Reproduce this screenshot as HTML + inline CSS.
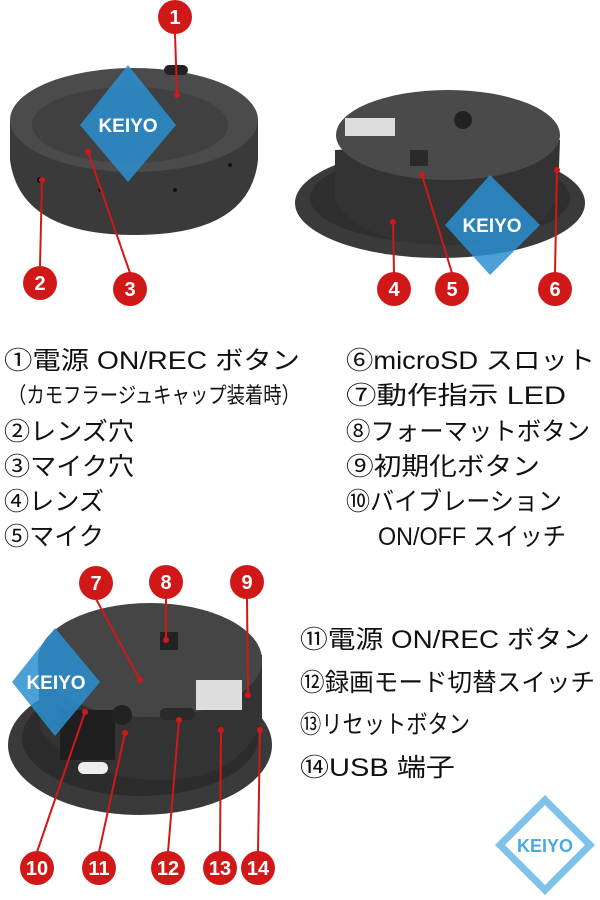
<!DOCTYPE html>
<html><head><meta charset="utf-8"><style>
body{margin:0;background:#fff;width:600px;height:900px;overflow:hidden}
svg{display:block}
text{font-family:"Liberation Sans","Noto Sans CJK JP",sans-serif}
.t{font-size:25px;fill:#111}
.n{font-size:20px;font-weight:bold;fill:#fff;text-anchor:middle}
</style></head><body>
<svg width="600" height="900" viewBox="0 0 600 900">
<!-- device 1 -->
<path d="M10 120 L10 160 Q20 235 135 235 Q250 235 258 160 L258 120 Z" fill="#3a3a3a"/>
<ellipse cx="134" cy="120" rx="124" ry="52" fill="#4b4b4b"/>
<ellipse cx="130" cy="125" rx="98" ry="38" fill="#404040"/>
<rect x="164" y="65" width="24" height="10" rx="5" fill="#222"/>
<circle cx="40" cy="180" r="3" fill="#111"/><circle cx="100" cy="190" r="2" fill="#111"/><circle cx="175" cy="190" r="2" fill="#111"/><circle cx="230" cy="165" r="2" fill="#111"/>
<!-- device 2 -->
<ellipse cx="440" cy="203" rx="145" ry="55" fill="#3a3a3a"/>
<ellipse cx="440" cy="198" rx="130" ry="45" fill="#2e2e2e"/>
<path d="M335 150 L335 200 Q360 245 450 245 Q540 245 558 195 L560 140 Z" fill="#333"/>
<ellipse cx="448" cy="135" rx="112" ry="45" fill="#4a4a4a"/>
<rect x="345" y="118" width="50" height="18" fill="#ddd"/>
<circle cx="463" cy="120" r="9" fill="#222"/>
<rect x="410" y="150" width="18" height="16" fill="#2a2a2a"/>
<!-- device 3 -->
<ellipse cx="140" cy="745" rx="132" ry="70" fill="#3a3a3a"/>
<ellipse cx="140" cy="738" rx="118" ry="58" fill="#2c2c2c"/>
<path d="M38 660 L40 730 Q80 780 160 780 Q240 780 262 720 L262 655 Z" fill="#333"/>
<ellipse cx="150" cy="660" rx="112" ry="57" fill="#454545"/>
<rect x="60" y="710" width="55" height="50" fill="#1e1e1e"/>
<rect x="78" y="762" width="30" height="12" rx="6" fill="#eee"/>
<rect x="196" y="680" width="46" height="30" fill="#ddd"/>
<circle cx="122" cy="715" r="10" fill="#222"/>
<rect x="160" y="708" width="35" height="12" rx="5" fill="#2a2a2a"/>
<rect x="160" y="632" width="18" height="18" fill="#222"/>
<!-- watermarks -->
<g fill="#2a8fd0" opacity="0.85">
<polygon points="128,65 176,125 128,182 80,125"/>
<polygon points="490,175 540,225 490,275 445,225"/>
<polygon points="55,628 100,682 55,736 12,682"/>
</g>
<g font-size="19" font-weight="bold" fill="#fff" text-anchor="middle" font-family="Liberation Sans,sans-serif">
<text x="128" y="132">KEIYO</text><text x="492" y="232">KEIYO</text><text x="56" y="689">KEIYO</text>
</g>
<polygon points="545,795 595,845 545,895 495,845" fill="#7ec2ea"/>
<polygon points="545,805 585,845 545,885 505,845" fill="#fff"/>
<text x="545" y="852" font-size="18" font-weight="bold" fill="#4aaae0" text-anchor="middle">KEIYO</text>
<!-- leader lines -->
<g stroke="#d01818" stroke-width="2" fill="none">
<line x1="175" y1="33" x2="177" y2="95"/><line x1="40" y1="267" x2="42" y2="180"/>
<line x1="130" y1="273" x2="88" y2="152"/><line x1="394" y1="273" x2="393" y2="222"/>
<line x1="452" y1="273" x2="422" y2="175"/><line x1="555" y1="273" x2="557" y2="170"/>
<line x1="96" y1="599" x2="140" y2="680"/><line x1="166" y1="598" x2="166" y2="640"/>
<line x1="247" y1="598" x2="248" y2="695"/><line x1="37" y1="852" x2="85" y2="712"/>
<line x1="99" y1="852" x2="125" y2="733"/><line x1="168" y1="852" x2="179" y2="720"/>
<line x1="220" y1="852" x2="221" y2="730"/><line x1="258" y1="852" x2="260" y2="730"/>
</g>
<g fill="#d01818">
<circle cx="177" cy="95" r="3"/><circle cx="42" cy="180" r="3"/><circle cx="88" cy="152" r="3"/><circle cx="393" cy="222" r="3"/><circle cx="422" cy="175" r="3"/><circle cx="557" cy="170" r="3"/>
<circle cx="140" cy="680" r="3"/><circle cx="166" cy="640" r="3"/><circle cx="248" cy="695" r="3"/><circle cx="85" cy="712" r="3"/><circle cx="125" cy="733" r="3"/><circle cx="179" cy="720" r="3"/><circle cx="221" cy="730" r="3"/><circle cx="260" cy="730" r="3"/>
</g>
<g fill="#d01818">
<circle cx="175" cy="17" r="17"/><circle cx="40" cy="283" r="17"/><circle cx="130" cy="289" r="17"/><circle cx="394" cy="289" r="17"/><circle cx="452" cy="289" r="17"/><circle cx="555" cy="289" r="17"/>
<circle cx="96" cy="583" r="17"/><circle cx="166" cy="582" r="17"/><circle cx="247" cy="582" r="17"/>
<circle cx="37" cy="868" r="17"/><circle cx="99" cy="868" r="17"/><circle cx="168" cy="868" r="17"/><circle cx="220" cy="868" r="17"/><circle cx="258" cy="868" r="17"/>
</g>
<g>
<text x="175" y="24" class="n">1</text><text x="40" y="290" class="n">2</text><text x="130" y="296" class="n">3</text><text x="394" y="296" class="n">4</text><text x="452" y="296" class="n">5</text><text x="555" y="296" class="n">6</text>
<text x="96" y="590" class="n">7</text><text x="166" y="589" class="n">8</text><text x="247" y="589" class="n">9</text>
<text x="37" y="875" class="n" font-size="18">10</text><text x="99" y="875" class="n" font-size="18">11</text><text x="168" y="875" class="n" font-size="18">12</text><text x="220" y="875" class="n" font-size="18">13</text><text x="258" y="875" class="n" font-size="18">14</text>
</g>
<!-- text -->
<g class="t">
<text x="4" y="369" textLength="296" lengthAdjust="spacingAndGlyphs">①電源 ON/REC ボタン</text>
<text x="8" y="403" font-size="22" textLength="292" lengthAdjust="spacingAndGlyphs">（カモフラージュキャップ装着時）</text>
<text x="4" y="440" textLength="130" lengthAdjust="spacingAndGlyphs">②レンズ穴</text>
<text x="4" y="475" textLength="130" lengthAdjust="spacingAndGlyphs">③マイク穴</text>
<text x="4" y="510" textLength="100" lengthAdjust="spacingAndGlyphs">④レンズ</text>
<text x="4" y="545" textLength="100" lengthAdjust="spacingAndGlyphs">⑤マイク</text>
<text x="346" y="369" textLength="249" lengthAdjust="spacingAndGlyphs">⑥microSD スロット</text>
<text x="346" y="404" textLength="220" lengthAdjust="spacingAndGlyphs">⑦動作指示 LED</text>
<text x="346" y="440" textLength="244" lengthAdjust="spacingAndGlyphs">⑧フォーマットボタン</text>
<text x="346" y="475" textLength="194" lengthAdjust="spacingAndGlyphs">⑨初期化ボタン</text>
<text x="346" y="510" textLength="216" lengthAdjust="spacingAndGlyphs">⑩バイブレーション</text>
<text x="378" y="545" textLength="188" lengthAdjust="spacingAndGlyphs">ON/OFF スイッチ</text>
<text x="300" y="648" textLength="290" lengthAdjust="spacingAndGlyphs">⑪電源 ON/REC ボタン</text>
<text x="300" y="691" textLength="295" lengthAdjust="spacingAndGlyphs">⑫録画モード切替スイッチ</text>
<text x="300" y="733" textLength="170" lengthAdjust="spacingAndGlyphs">⑬リセットボタン</text>
<text x="300" y="776" textLength="155" lengthAdjust="spacingAndGlyphs">⑭USB 端子</text>
</g>
</svg>
</body></html>
